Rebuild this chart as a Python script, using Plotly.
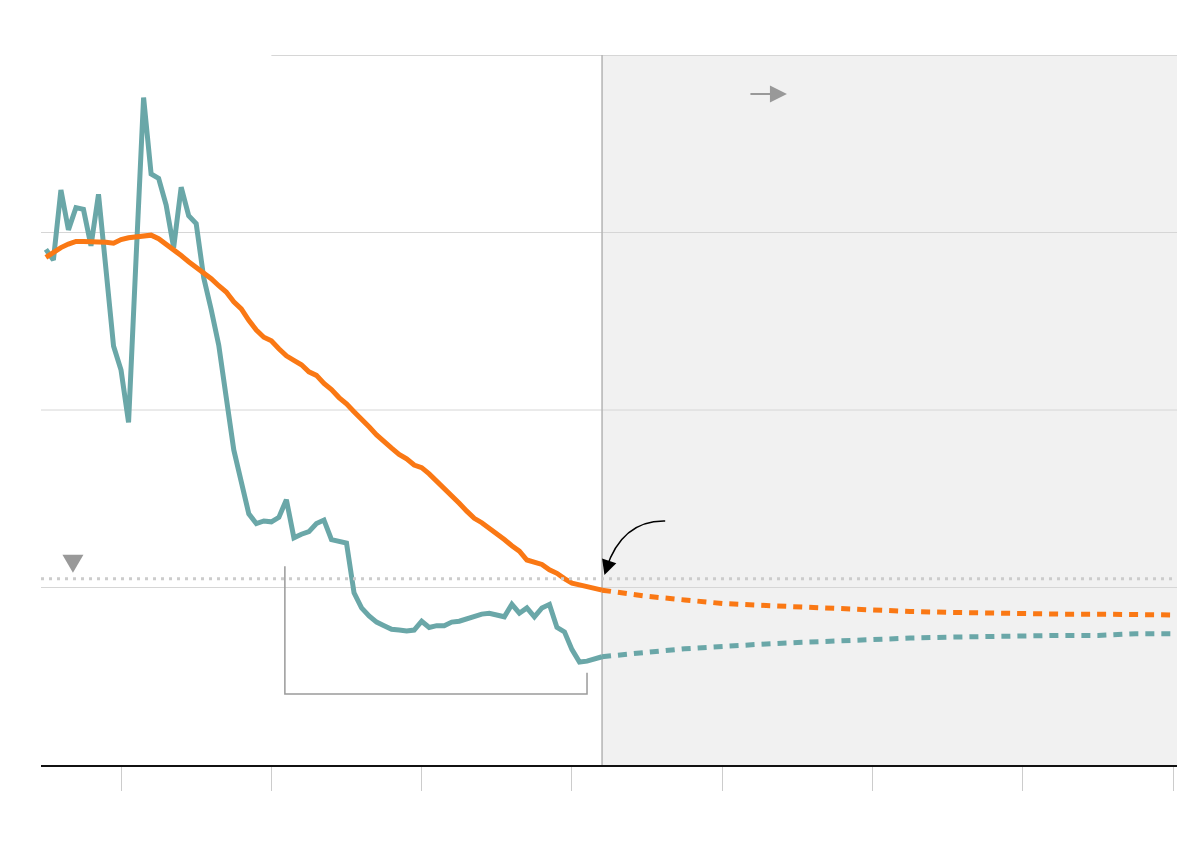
import plotly.graph_objects as go

# ---------------- data ----------------
years_hist = list(range(1950, 2025))
teal_hist = [5.81, 5.69, 6.48, 6.03, 6.28, 6.26, 5.85, 6.43, 5.58, 4.72,
             4.45, 3.86, 5.71, 7.52, 6.66, 6.61, 6.31, 5.83, 6.51, 6.19,
             6.10, 5.49, 5.13, 4.73, 4.14, 3.55, 3.19, 2.83, 2.72, 2.75,
             2.74, 2.79, 2.99, 2.56, 2.60, 2.63, 2.72, 2.76, 2.54, 2.52,
             2.50, 1.94, 1.77, 1.68, 1.61, 1.57, 1.53, 1.52, 1.51, 1.52,
             1.62, 1.55, 1.57, 1.57, 1.61, 1.62, 1.65, 1.68, 1.70, 1.71,
             1.69, 1.67, 1.81, 1.71, 1.77, 1.67, 1.77, 1.81, 1.55, 1.50,
             1.30, 1.16, 1.17, 1.19, 1.22]
orange_hist = [5.72, 5.78, 5.83, 5.87, 5.90, 5.90, 5.90, 5.90, 5.89, 5.88,
               5.92, 5.94, 5.95, 5.96, 5.97, 5.93, 5.87, 5.81, 5.74, 5.67,
               5.61, 5.55, 5.48, 5.40, 5.33, 5.22, 5.14, 5.01, 4.90, 4.82,
               4.78, 4.69, 4.61, 4.56, 4.51, 4.43, 4.39, 4.30, 4.23, 4.14,
               4.07, 3.98, 3.90, 3.81, 3.72, 3.64, 3.57, 3.50, 3.45, 3.38,
               3.35, 3.28, 3.20, 3.11, 3.04, 2.95, 2.86, 2.78, 2.73, 2.67,
               2.60, 2.54, 2.47, 2.41, 2.31, 2.29, 2.26, 2.20, 2.16, 2.10,
               2.05, 2.03, 2.01, 1.98, 1.97]

years_proj = [2024, 2027, 2030, 2035, 2040, 2045, 2050, 2055, 2060, 2065,
              2070, 2075, 2080, 2085, 2090, 2095, 2100]
teal_proj = [1.22, 1.24, 1.27, 1.31, 1.34, 1.36, 1.38, 1.40, 1.41, 1.43,
             1.44, 1.45, 1.46, 1.46, 1.46, 1.48, 1.48]
orange_proj = [1.97, 1.93, 1.90, 1.86, 1.82, 1.80, 1.78, 1.76, 1.75, 1.73,
               1.72, 1.71, 1.71, 1.70, 1.70, 1.69, 1.69]

replacement_level = 2.1
projection_start = 2024
x_ticks = [1960, 1980, 2000, 2020, 2040, 2060, 2080, 2100]
y_grid = [2, 4, 6]
y_top = 8
x_range = [1949.35, 2100.5]

TEAL = "#6aa7a8"
ORANGE = "#fa7814"

fig = go.Figure()

fig.add_trace(go.Scatter(x=years_hist, y=teal_hist, mode="lines",
                         line=dict(color=TEAL, width=5), hoverinfo="skip"))
fig.add_trace(go.Scatter(x=years_hist, y=orange_hist, mode="lines",
                         line=dict(color=ORANGE, width=5), hoverinfo="skip"))
fig.add_trace(go.Scatter(x=years_proj, y=teal_proj, mode="lines",
                         line=dict(color=TEAL, width=5, dash="9px,7px"), hoverinfo="skip"))
fig.add_trace(go.Scatter(x=years_proj, y=orange_proj, mode="lines",
                         line=dict(color=ORANGE, width=5, dash="9px,7px"), hoverinfo="skip"))

shapes = []
# projection shading
shapes.append(dict(type="rect", xref="x", yref="y", x0=projection_start, x1=x_range[1],
                   y0=0, y1=y_top, fillcolor="#f1f1f1", line=dict(width=0), layer="below"))
# gridlines (axis-referenced so they sit on top of the shading)
for g in y_grid:
    shapes.append(dict(type="line", xref="x", yref="y", x0=x_range[0], x1=x_range[1], y0=g, y1=g,
                       line=dict(color="#d6d6d6", width=1), layer="below"))
shapes.append(dict(type="line", xref="x", yref="y", x0=1980, x1=x_range[1], y0=y_top, y1=y_top,
                   line=dict(color="#d6d6d6", width=2), layer="below"))
# projection divider
shapes.append(dict(type="line", xref="x", yref="y", x0=projection_start, x1=projection_start,
                   y0=0, y1=y_top, line=dict(color="#b4b4b4", width=1.5), layer="below"))
# replacement level dotted line
shapes.append(dict(type="line", xref="x", yref="y", x0=x_range[0], x1=x_range[1],
                   y0=replacement_level, y1=replacement_level,
                   line=dict(color="#cccccc", width=3, dash="3px,5px"), layer="above"))
# triangle marker (pixel-sized, anchored on replacement line)
shapes.append(dict(type="path", xref="x", yref="y", xsizemode="pixel", ysizemode="pixel",
                   xanchor=1953.6, yanchor=replacement_level,
                   path="M-10.5,24 L10.5,24 L0,6 Z",
                   fillcolor="#999999", line=dict(width=0), layer="above"))
# bracket
shapes.append(dict(type="path", xref="x", yref="y",
                   path="M1981.8,2.24 V0.8 H2022 V1.04",
                   line=dict(color="#9a9a9a", width=1.5), layer="above"))
# curved black arrow body
shapes.append(dict(type="path", xref="x", yref="y",
                   path="M2032.4,2.75 Q2026.67,2.76 2024.54,2.21",
                   line=dict(color="black", width=1.5), layer="above"))

fig.update_layout(shapes=shapes)

fig.add_annotation(x=2024.32, y=2.14, xref="x", yref="y", text="", showarrow=True,
                   ax=4, ay=-12, arrowhead=2, arrowsize=2, arrowwidth=1.5,
                   arrowcolor="black", standoff=0)
fig.add_annotation(x=2048.6, y=7.56, xref="x", yref="y", text="", showarrow=True,
                   ax=-38, ay=0, arrowhead=2, arrowsize=1.7, arrowwidth=2,
                   arrowcolor="#999999", standoff=0)

# page body adds an 8px offset, so the figure is sized/margined to compensate
fig.update_layout(
    width=1192, height=844,
    margin=dict(l=33, r=23, t=47, b=87),
    paper_bgcolor="white", plot_bgcolor="white",
    showlegend=False,
    xaxis=dict(range=x_range, tickvals=x_ticks, showticklabels=False, showgrid=False,
               zeroline=False, showline=True, linecolor="#111111", linewidth=2,
               ticks="outside", ticklen=24, tickcolor="#cccccc", tickwidth=1),
    yaxis=dict(range=[0, y_top], showticklabels=False, showgrid=False, zeroline=False,
               showline=False, ticks=""),
)

fig.write_html("out.html", config={"displayModeBar": False})
